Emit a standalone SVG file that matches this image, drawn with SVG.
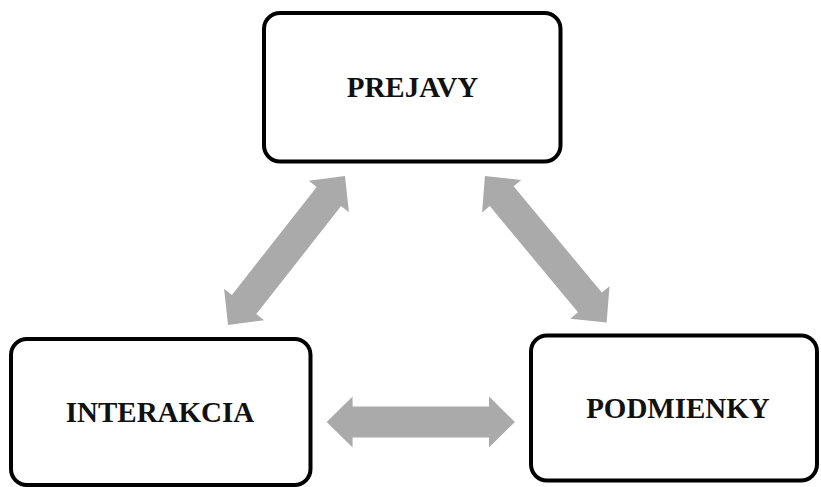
<svg xmlns="http://www.w3.org/2000/svg" xmlns:xlink="http://www.w3.org/1999/xlink" width="821" height="487" viewBox="0 0 821 487">
<style>
.box{fill:#ffffff;stroke:#000000;stroke-width:4}
.lbl{font-family:"Liberation Serif","Times New Roman",serif;font-weight:bold;font-size:29px;fill:#111111;text-anchor:middle}
.arr{fill:#aaaaaa}
</style>
<defs>
<path id="dblarrow" d="M-94.5,0 L-68.5,-25.5 L-68.5,-15.5 L68.5,-15.5 L68.5,-25.5 L94.5,0 L68.5,25.5 L68.5,15.5 L-68.5,15.5 L-68.5,25.5 Z"/>
</defs>
<rect width="821" height="487" fill="#ffffff"/>
<g id="connectors">
<use xlink:href="#dblarrow" class="arr" transform="translate(286.5,250.5) rotate(-51.86) scale(1.002,1)"/>
<use xlink:href="#dblarrow" class="arr" transform="translate(545.8,249.3) rotate(50.3) scale(1.008,1)"/>
<use xlink:href="#dblarrow" class="arr" transform="translate(420.8,422) scale(0.996,1)"/>
</g>
<g id="prejavy">
<rect class="box" x="264" y="13" width="296.5" height="148.5" rx="16" ry="16"/>
<text class="lbl" x="412.5" y="97">PREJAVY</text>
</g>
<g id="interakcia">
<rect class="box" x="11" y="339" width="299.5" height="146" rx="16" ry="16"/>
<text class="lbl" x="160" y="422">INTERAKCIA</text>
</g>
<g id="podmienky">
<rect class="box" x="531" y="335.5" width="286" height="145" rx="16" ry="16"/>
<text class="lbl" x="678" y="418">PODMIENKY</text>
</g>
</svg>
